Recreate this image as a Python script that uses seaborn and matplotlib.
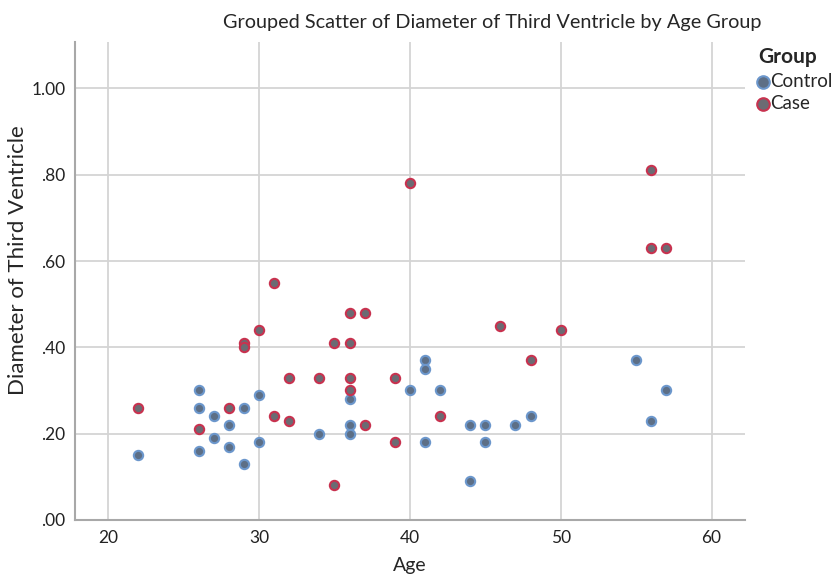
import pandas as pd
import matplotlib.pyplot as plt
import seaborn as sns

control_age = [22, 26, 26, 26, 27, 27, 28, 28, 29, 29, 30, 30, 34, 36, 36, 36,
               40, 41, 41, 41, 42, 44, 44, 45, 45, 47, 48, 55, 56, 57]
control_diam = [0.15, 0.30, 0.26, 0.16, 0.24, 0.19, 0.22, 0.17, 0.26, 0.13, 0.29, 0.18,
                0.20, 0.28, 0.22, 0.20, 0.30, 0.37, 0.35, 0.18, 0.30, 0.22, 0.09,
                0.22, 0.18, 0.22, 0.24, 0.37, 0.23, 0.30]
case_age = [22, 26, 28, 29, 29, 30, 31, 31, 32, 32, 34, 35, 35, 36, 36, 36, 36,
            37, 37, 39, 39, 40, 42, 46, 48, 50, 56, 56, 57]
case_diam = [0.26, 0.21, 0.26, 0.41, 0.40, 0.44, 0.55, 0.24, 0.33, 0.23, 0.33, 0.41,
             0.08, 0.48, 0.41, 0.33, 0.30, 0.48, 0.22, 0.33, 0.18, 0.78, 0.24,
             0.45, 0.37, 0.44, 0.81, 0.63, 0.63]

df = pd.DataFrame({
    'Age': control_age + case_age,
    'Diameter': control_diam + case_diam,
    'Group': ['Control'] * len(control_age) + ['Case'] * len(case_age),
})

sns.set_style('white')
plt.rcParams['font.family'] = ['Lato', 'DejaVu Sans']

fig = plt.figure(figsize=(8.34, 5.79), dpi=100)
ax = fig.add_axes([0.09, 0.102, 0.803, 0.825])

edges = {'Control': '#6c97cc', 'Case': '#c8324f'}
fills = {'Control': '#5d6f86', 'Case': '#6b6b73'}
for grp in ['Control', 'Case']:
    sub = df[df['Group'] == grp]
    sns.scatterplot(data=sub, x='Age', y='Diameter', ax=ax, s=45,
                    color=fills[grp], edgecolor=edges[grp], linewidth=1.5,
                    label=grp, zorder=3)

ax.set_xlim(17.8, 62.2)
ax.set_ylim(0, 1.107)
ax.set_xticks([20, 30, 40, 50, 60])
ax.set_yticks([0, 0.2, 0.4, 0.6, 0.8, 1.0])
ax.set_yticklabels(['.00', '.20', '.40', '.60', '.80', '1.00'])
ax.grid(True, color='#d4d4d4', linewidth=1.3, zorder=0)
ax.set_axisbelow(True)
for side in ['top', 'right']:
    ax.spines[side].set_visible(False)
for side in ['left', 'bottom']:
    ax.spines[side].set_color('#a8a8a8')
    ax.spines[side].set_linewidth(1.5)
ax.tick_params(axis='both', labelsize=12.5, colors='#222222', length=0, pad=7)
ax.set_xlabel('Age', fontsize=14, labelpad=8)
ax.set_ylabel('Diameter of Third Ventricle', fontsize=16)
ax.yaxis.set_label_coords(-0.070, 0.544)

fig.text(0.59, 0.962, 'Grouped Scatter of Diameter of Third Ventricle by Age Group',
         ha='center', va='center', fontsize=14.3)

leg = ax.legend(title='Group', loc='upper left', bbox_to_anchor=(0.898, 0.935),
                bbox_transform=fig.transFigure, frameon=False, fontsize=13.5,
                handlelength=0.5, handletextpad=0.15, borderpad=0,
                labelspacing=0.3, markerscale=1.35, alignment='left')
leg.get_title().set_fontweight('bold')
leg.get_title().set_fontsize(15)

fig.savefig('out.png', dpi=100)
